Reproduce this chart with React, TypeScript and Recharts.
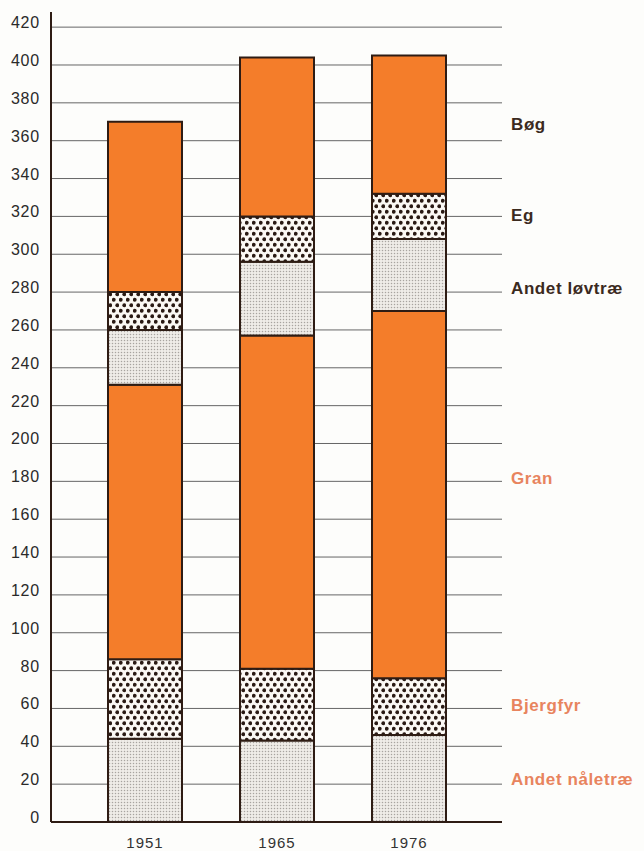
import { BarChart, Bar, XAxis, YAxis, CartesianGrid, ReferenceLine } from "recharts";

const years = ["1951", "1965", "1976"];
const andetNaaletrae = [44, 43, 46];
const bjergfyr = [42, 38, 30];
const gran = [145, 176, 194];
const andetLoevtrae = [29, 39, 38];
const eg = [20, 24, 24];
const boeg = [90, 84, 73];

const yTicks = [0, 20, 40, 60, 80, 100, 120, 140, 160, 180, 200, 220, 240, 260, 280, 300, 320, 340, 360, 380, 400, 420];

// legend text on the right, placed at a level of the y scale
const legendNames = ["Bøg", "Eg", "Andet løvtræ", "Gran", "Bjergfyr", "Andet nåletræ"];
const legendLevels = [369, 321, 282, 182, 62, 23];
const legendDark = [true, true, true, false, false, false];

const data = years.map((year, i) => ({
  year,
  andetNaaletrae: andetNaaletrae[i],
  bjergfyr: bjergfyr[i],
  gran: gran[i],
  andetLoevtrae: andetLoevtrae[i],
  eg: eg[i],
  boeg: boeg[i],
}));

const INK = "#2e1c14";
const ORANGE = "#f47d2a";
const FONT = "'Liberation Sans', Arial, sans-serif";

function YTick({ x, y, payload }: any) {
  return (
    <text x={x - 11} y={y + 1} textAnchor="end" fill="#2a2a2a" fontSize={16} fontFamily={FONT} letterSpacing={0.8}>
      {payload.value}
    </text>
  );
}

function XTick({ x, y, payload }: any) {
  return (
    <text x={x} y={y + 26} textAnchor="middle" fill="#333" fontSize={15} fontFamily={FONT} letterSpacing={1}>
      {payload.value}
    </text>
  );
}

export default function App() {
  return (
    <div style={{ position: "absolute", left: 0, top: 0, background: "#fdfdfb", fontFamily: FONT }}>
      <BarChart width={644} height={851} data={data} margin={{ top: 12, right: 142, bottom: 0, left: 0 }}>
        <defs>
          <pattern id="coarse" width="7" height="11" patternUnits="userSpaceOnUse">
            <rect width="7" height="11" fill="#fbf8f4" />
            <circle cx="1.75" cy="2.75" r="1.9" fill="#2a1a14" />
            <circle cx="5.25" cy="8.25" r="1.9" fill="#2a1a14" />
          </pattern>
          <pattern id="fine" width="3" height="3" patternUnits="userSpaceOnUse">
            <rect width="3" height="3" fill="#efece8" />
            <circle cx="1.5" cy="1.5" r="0.75" fill="#a8a4a0" />
          </pattern>
        </defs>
        <CartesianGrid vertical={false} stroke="#666" strokeWidth={1} horizontalValues={yTicks.slice(1)} />
        <XAxis
          dataKey="year"
          height={29}
          padding={{ left: 28, right: 27 }}
          tickLine={false}
          tickSize={0}
          tickMargin={0}
          axisLine={{ stroke: INK, strokeWidth: 2 }}
          tick={<XTick />}
        />
        <YAxis
          width={51}
          domain={[0, 428]}
          ticks={yTicks}
          interval={0}
          tickLine={false}
          tickSize={0}
          tickMargin={0}
          axisLine={{ stroke: INK, strokeWidth: 2 }}
          tick={<YTick />}
        />
        <Bar dataKey="andetNaaletrae" stackId="a" barSize={74} fill="url(#fine)" stroke={INK} strokeWidth={2} isAnimationActive={false} />
        <Bar dataKey="bjergfyr" stackId="a" barSize={74} fill="url(#coarse)" stroke={INK} strokeWidth={2} isAnimationActive={false} />
        <Bar dataKey="gran" stackId="a" barSize={74} fill={ORANGE} stroke={INK} strokeWidth={2} isAnimationActive={false} />
        <Bar dataKey="andetLoevtrae" stackId="a" barSize={74} fill="url(#fine)" stroke={INK} strokeWidth={2} isAnimationActive={false} />
        <Bar dataKey="eg" stackId="a" barSize={74} fill="url(#coarse)" stroke={INK} strokeWidth={2} isAnimationActive={false} />
        <Bar dataKey="boeg" stackId="a" barSize={74} fill={ORANGE} stroke={INK} strokeWidth={2} isAnimationActive={false} />
        {legendNames.map((name, i) => (
          <ReferenceLine
            key={name}
            y={legendLevels[i]}
            stroke="none"
            label={{
              value: name,
              position: "right",
              offset: 9,
              fill: legendDark[i] ? "#3b2a1e" : "#e8845e",
              fontSize: 17,
              fontWeight: 700,
              fontFamily: FONT,
              letterSpacing: 0.6,
            }}
          />
        ))}
      </BarChart>
    </div>
  );
}
